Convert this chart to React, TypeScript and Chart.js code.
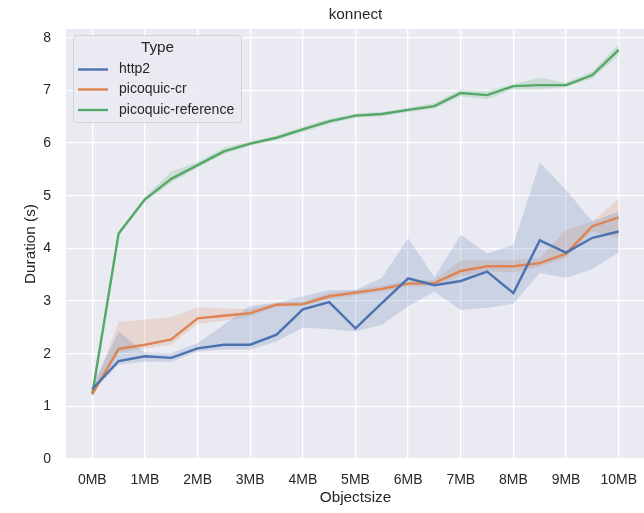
import React, { useEffect, useRef } from "react";
import { Chart, registerables } from "chart.js";

Chart.register(...registerables);

// Object sizes in MB
const sizes = [0, 0.5, 1, 1.5, 2, 2.5, 3, 3.5, 4, 4.5, 5, 5.5, 6, 6.5, 7, 7.5, 8, 8.5, 9, 9.5, 10];
const xTicks = [0, 1, 2, 3, 4, 5, 6, 7, 8, 9, 10];
const yTicks = [0, 1, 2, 3, 4, 5, 6, 7, 8];

const http2Mean = [1.33, 1.86, 1.95, 1.92, 2.10, 2.17, 2.17, 2.36, 2.84, 2.98, 2.48, 2.96, 3.43, 3.30, 3.38, 3.56, 3.15, 4.15, 3.92, 4.20, 4.32];
const http2Low = [1.28, 1.79, 1.85, 1.84, 2.04, 2.08, 2.08, 2.23, 2.49, 2.47, 2.42, 2.55, 2.90, 3.18, 2.83, 2.87, 2.95, 3.53, 3.44, 3.61, 3.92];
const http2High = [1.40, 2.42, 2.02, 2.01, 2.20, 2.55, 2.91, 2.96, 3.09, 3.21, 3.21, 3.44, 4.19, 3.45, 4.26, 3.90, 4.07, 5.63, 5.11, 4.51, 4.70];

const crMean = [1.23, 2.09, 2.17, 2.27, 2.67, 2.72, 2.77, 2.93, 2.94, 3.09, 3.16, 3.23, 3.33, 3.34, 3.57, 3.66, 3.66, 3.72, 3.90, 4.42, 4.59];
const crLow = [1.20, 2.02, 2.10, 2.17, 2.57, 2.62, 2.71, 2.89, 2.90, 3.04, 3.11, 3.18, 3.27, 3.29, 3.47, 3.57, 3.54, 3.65, 3.82, 4.32, 4.20];
const crHigh = [1.27, 2.60, 2.65, 2.69, 2.88, 2.86, 2.85, 2.97, 2.99, 3.15, 3.21, 3.29, 3.39, 3.40, 3.77, 3.78, 3.78, 3.81, 4.35, 4.51, 4.94];

const refMean = [1.23, 4.28, 4.93, 5.32, 5.58, 5.84, 5.99, 6.10, 6.26, 6.41, 6.52, 6.55, 6.63, 6.70, 6.95, 6.91, 7.08, 7.10, 7.10, 7.29, 7.77];
const refLow = [1.20, 4.24, 4.88, 5.25, 5.53, 5.79, 5.95, 6.06, 6.21, 6.36, 6.48, 6.51, 6.59, 6.65, 6.89, 6.83, 7.02, 7.02, 7.06, 7.23, 7.66];
const refHigh = [1.27, 4.32, 4.98, 5.46, 5.64, 5.91, 6.03, 6.14, 6.31, 6.46, 6.56, 6.59, 6.67, 6.76, 7.01, 6.99, 7.12, 7.24, 7.15, 7.36, 7.88];

const seriesNames = ["http2", "picoquic-cr", "picoquic-reference"];
const seriesColors = ["#4c72b0", "#dd8452", "#55a868"];
const bandColors = ["rgba(76,114,176,0.2)", "rgba(221,132,82,0.2)", "rgba(85,168,104,0.2)"];

const chartTitle = "konnect";
const xTitle = "Objectsize";
const yTitle = "Duration (s)";
const legendTitle = "Type";

const FONT = '"Liberation Sans", Arial, Helvetica, sans-serif';
const TEXT = "#262626";

export default function App() {
  const ref = useRef<HTMLCanvasElement>(null);

  useEffect(() => {
    if (!ref.current) return;
    const toPts = (ys: number[]) => sizes.map((x, i) => ({ x, y: ys[i] }));
    const series = [
      { mean: http2Mean, low: http2Low, high: http2High },
      { mean: crMean, low: crLow, high: crHigh },
      { mean: refMean, low: refLow, high: refHigh },
    ];
    const datasets: any[] = [];
    series.forEach((s, i) => {
      datasets.push({
        label: seriesNames[i] + " low",
        data: toPts(s.low),
        borderColor: "transparent",
        borderWidth: 0,
        pointRadius: 0,
        fill: false,
        order: 10,
      });
      datasets.push({
        label: seriesNames[i] + " high",
        data: toPts(s.high),
        borderColor: "transparent",
        borderWidth: 0,
        pointRadius: 0,
        fill: "-1",
        backgroundColor: bandColors[i],
        order: 10,
      });
    });
    series.forEach((s, i) => {
      datasets.push({
        label: seriesNames[i],
        data: toPts(s.mean),
        borderColor: seriesColors[i],
        borderWidth: 2.4,
        pointRadius: 0,
        fill: false,
        tension: 0,
        order: 1,
      });
    });

    const bgPlugin = {
      id: "bg",
      beforeDraw(chart: any) {
        const { ctx, chartArea: ca } = chart;
        ctx.save();
        ctx.fillStyle = "#ffffff";
        ctx.fillRect(0, 0, chart.width, chart.height);
        ctx.fillStyle = "#eaeaf2";
        ctx.fillRect(ca.left, ca.top, ca.right - ca.left, ca.bottom - ca.top);
        ctx.restore();
      },
    };

    const overlayPlugin = {
      id: "overlay",
      afterDraw(chart: any) {
        const { ctx, chartArea: ca } = chart;
        ctx.save();
        ctx.fillStyle = TEXT;
        ctx.textAlign = "center";
        ctx.font = `15.3px ${FONT}`;
        const cx = (ca.left + ca.right) / 2;
        ctx.textBaseline = "alphabetic";
        ctx.fillText(chartTitle, cx, 18.5);
        ctx.textBaseline = "middle";
        ctx.fillText(xTitle, cx, 498);
        ctx.save();
        ctx.translate(34.5, (ca.top + ca.bottom) / 2);
        ctx.rotate(-Math.PI / 2);
        ctx.textBaseline = "alphabetic";
        ctx.fillText(yTitle, 0, 0);
        ctx.restore();

        // legend
        const bx = 73.5, by = 35.5, bw = 168, bh = 87;
        ctx.beginPath();
        (ctx as any).roundRect(bx, by, bw, bh, 4);
        ctx.fillStyle = "rgba(234,234,242,0.8)";
        ctx.fill();
        ctx.strokeStyle = "rgba(204,204,204,0.8)";
        ctx.lineWidth = 1;
        ctx.stroke();
        ctx.textBaseline = "middle";
        ctx.fillStyle = TEXT;
        ctx.font = `15.3px ${FONT}`;
        ctx.textAlign = "center";
        ctx.fillText(legendTitle, 157.5, 47.5);
        const rows = [69.5, 89.5, 110];
        ctx.font = `14px ${FONT}`;
        ctx.textAlign = "left";
        seriesNames.forEach((name, i) => {
          ctx.strokeStyle = seriesColors[i];
          ctx.lineWidth = 2.4;
          ctx.beginPath();
          ctx.moveTo(78, rows[i]);
          ctx.lineTo(108, rows[i]);
          ctx.stroke();
          ctx.fillStyle = TEXT;
          ctx.fillText(name, 119, rows[i]);
        });
        ctx.restore();
      },
    };

    const chart = new Chart(ref.current, {
      type: "line",
      data: { datasets },
      options: {
        animation: false,
        responsive: false,
        devicePixelRatio: 1,
        layout: { padding: { left: 0, top: 29, right: 15, bottom: 0 } },
        plugins: {
          legend: { display: false },
          title: { display: false },
          tooltip: { enabled: false },
          filler: { propagate: false },
        },
        scales: {
          x: {
            type: "linear",
            min: -0.5,
            max: 10.5,
            afterBuildTicks: (scale: any) => {
              scale.ticks = xTicks.map((v) => ({ value: v }));
            },
            afterFit: (scale: any) => {
              scale.height = 54;
            },
            ticks: {
              callback: (v: any) => `${v}MB`,
              color: TEXT,
              font: { family: FONT, size: 14 },
              padding: 13,
              maxRotation: 0,
              autoSkip: false,
            },
            grid: { color: "#ffffff", lineWidth: 1.3, drawTicks: false },
            border: { display: false },
          },
          y: {
            type: "linear",
            min: 0,
            max: 8.165,
            afterBuildTicks: (scale: any) => {
              scale.ticks = yTicks.map((v) => ({ value: v }));
            },
            afterFit: (scale: any) => {
              scale.width = 66;
            },
            ticks: {
              callback: (v: any) => `${v}`,
              color: TEXT,
              font: { family: FONT, size: 14 },
              padding: 15,
              autoSkip: false,
            },
            grid: { color: "#ffffff", lineWidth: 1.3, drawTicks: false },
            border: { display: false },
          },
        },
      },
      plugins: [bgPlugin, overlayPlugin],
    } as any);

    return () => chart.destroy();
  }, []);

  return (
    <div style={{ position: "absolute", left: 0, top: 0, width: 644, height: 513, overflow: "hidden", background: "#fff" }}>
      <canvas ref={ref} width={660} height={513} style={{ width: 660, height: 513, display: "block" }} />
    </div>
  );
}
